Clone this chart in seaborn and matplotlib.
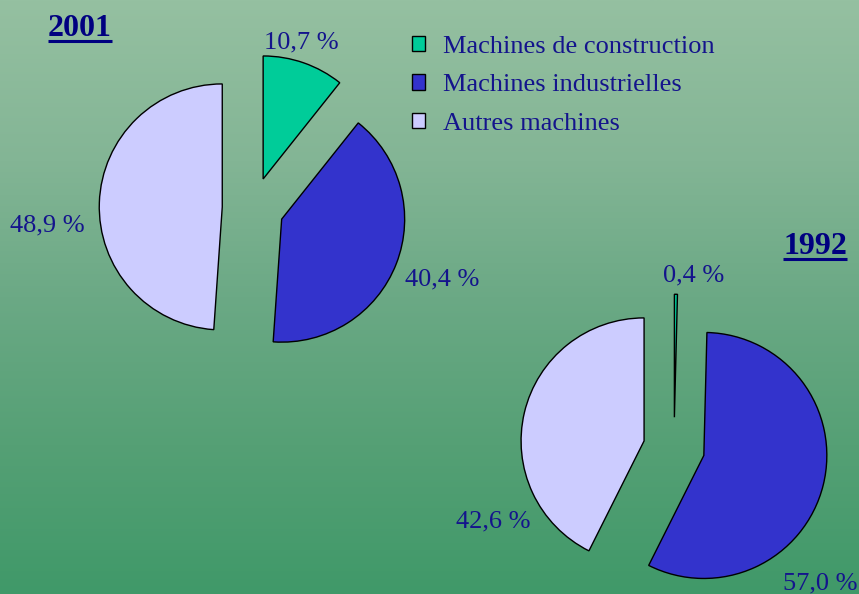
import numpy as np
import matplotlib
matplotlib.use('Agg')
import matplotlib.pyplot as plt
from matplotlib.patches import Patch
from matplotlib.lines import Line2D
from matplotlib.colors import LinearSegmentedColormap
import seaborn as sns

# Data
categories = ['Machines de construction', 'Machines industrielles', 'Autres machines']
shares_2001 = [10.7, 40.4, 48.9]
shares_1992 = [0.4, 57.0, 42.6]
years = ['2001', '1992']
colors = ['#00cc99', '#3333cc', '#ccccff']

# Layout (pixel coordinates, y measured from the top)
W, H = 859, 594
RADIUS = 123
EXPLODE = 0.25  # fraction of the radius
pie_centers = [(253, 208), (674, 448)]
label_pos = [[(264, 48), (405, 285), (10, 231)],
             [(663, 281), (783, 589), (456, 527)]]
title_pos = [(48, 36), (783, 254)]
TEXT_COLOR = '#14148c'

sns.set_style('white')
plt.rcParams['font.family'] = ['Liberation Serif', 'DejaVu Serif']

fig = plt.figure(figsize=(W / 100, H / 100), dpi=100)
ax = fig.add_axes([0, 0, 1, 1])

# green vertical gradient background
grad = np.linspace(0, 1, 256).reshape(-1, 1)
bg_cmap = LinearSegmentedColormap.from_list(
    'bg', [(0, '#95c0a1'), (0.27, '#83b595'), (0.5, '#6ba985'),
           (0.75, '#55a075'), (1, '#409969')])
ax.imshow(grad, cmap=bg_cmap, extent=[0, W, 0, H], aspect='auto', zorder=0)


def fmt(v):
    return f'{v:.1f} %'.replace('.', ',')


for vals, (cx, cy), positions in zip([shares_2001, shares_1992], pie_centers, label_pos):
    ax.pie(vals, colors=colors, explode=[EXPLODE * RADIUS] * len(vals), startangle=90,
           counterclock=False, radius=RADIUS, center=(cx, H - cy), frame=True,
           wedgeprops=dict(edgecolor='black', linewidth=1.0))
    for v, (x, y) in zip(vals, positions):
        ax.text(x, H - y, fmt(v), fontsize=19, color=TEXT_COLOR,
                ha='left', va='baseline')

ax.set_xlim(0, W)
ax.set_ylim(0, H)
ax.set_aspect('auto')
ax.axis('off')

# underlined bold year titles
title_texts = []
for yr, (x, y) in zip(years, title_pos):
    t = ax.text(x, H - y, yr, fontsize=23, fontweight='bold', color='#000080',
                ha='left', va='baseline')
    title_texts.append(t)

fig.canvas.draw()
renderer = fig.canvas.get_renderer()
for t, (x, y) in zip(title_texts, title_pos):
    bb = t.get_window_extent(renderer)
    uy = H - y - 5
    fig.add_artist(Line2D([bb.x0, bb.x1], [uy, uy], transform=None,
                          color='#000080', linewidth=2.2, solid_capstyle='butt'))

handles = [Patch(facecolor=c, edgecolor='black', linewidth=1.0) for c in colors]
fig.legend(handles, categories, loc='upper left',
           bbox_to_anchor=(412 / W, 1 - 36 / H), frameon=False,
           fontsize=19, labelcolor=TEXT_COLOR, handlelength=0.5, handleheight=0.5,
           handletextpad=0.68, labelspacing=0.62, borderpad=0, borderaxespad=0)

fig.savefig('out.png', dpi=100)
